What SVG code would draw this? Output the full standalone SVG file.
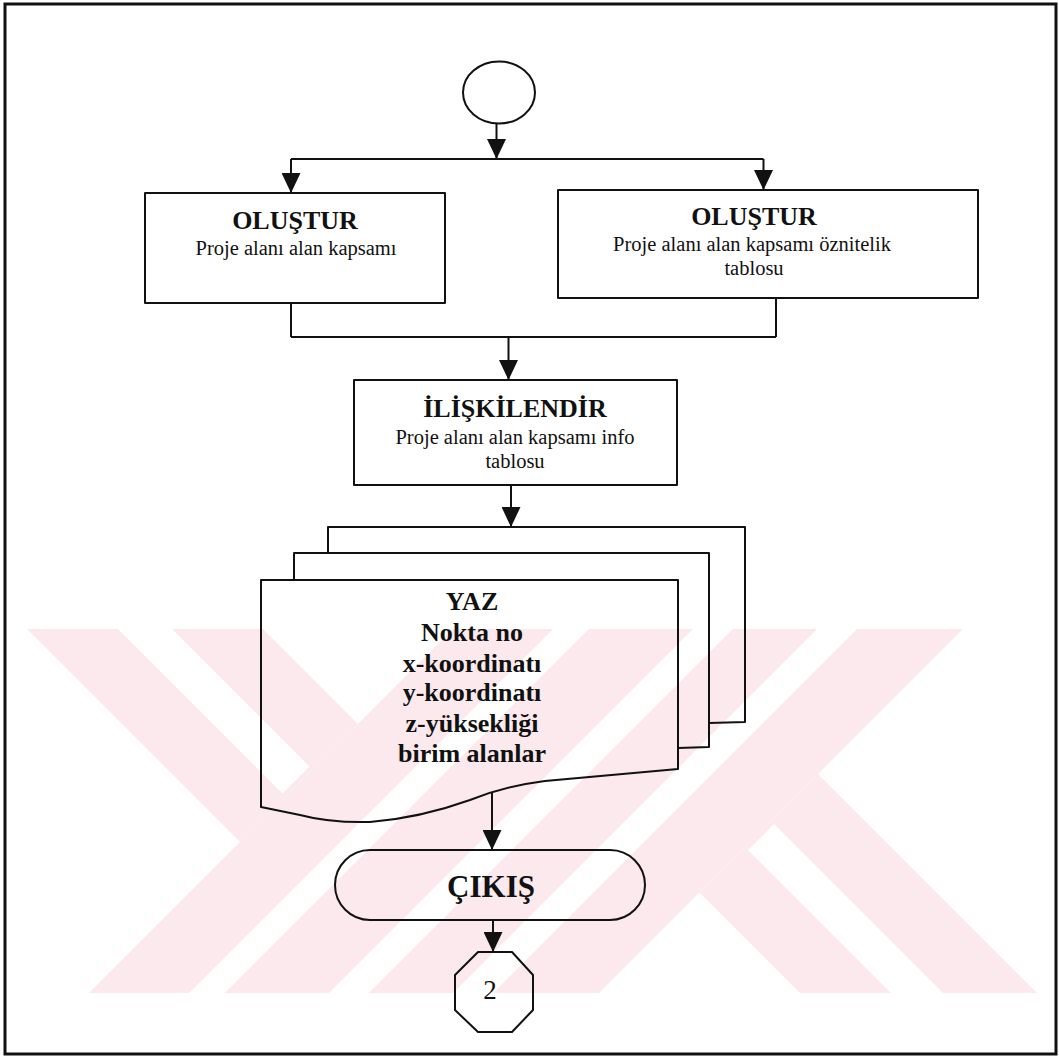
<svg xmlns="http://www.w3.org/2000/svg" width="1059" height="1059" viewBox="0 0 1059 1059">
<defs>
<style>
.ln{fill:none;stroke:#111;stroke-width:2;stroke-linejoin:round}
.sh{fill:none;stroke:#111;stroke-width:2;stroke-linejoin:round}
.t{font-family:"Liberation Serif","Times New Roman",serif;font-weight:bold;font-size:26px;fill:#111;text-anchor:middle}
.r{font-family:"Liberation Serif","Times New Roman",serif;font-size:20.5px;fill:#111;text-anchor:middle}
.d{font-family:"Liberation Serif","Times New Roman",serif;font-weight:bold;font-size:26px;fill:#111;text-anchor:middle}
.x{font-family:"Liberation Serif","Times New Roman",serif;font-weight:bold;font-size:31px;fill:#111;text-anchor:middle}
.n{font-family:"Liberation Serif","Times New Roman",serif;font-size:27px;fill:#111;text-anchor:middle}
.pk{fill:#fce9ed}
.wh{fill:#ffffff}
</style>
<marker id="arr" markerUnits="userSpaceOnUse" viewBox="0 0 20 19" refX="20" refY="9.5" markerWidth="20" markerHeight="19" orient="auto">
<path d="M0,0 L20,9.5 L0,19 Z" fill="#111"/>
</marker>
</defs>
<rect width="1059" height="1059" fill="#ffffff"/>
<g id="watermark">
<polygon class="pk" points="27,629 263,629 358,724 240,842"/>
<polygon class="pk" points="453,629 693,629 329,993 89,993"/>
<polygon class="pk" points="733,629 963,629 599,993 369,993"/>
<polygon class="pk" points="818,774 1037,993 800,993 699.5,892.5"/>
<polygon class="wh" points="118,629 172,629 309.5,766.5 282.5,793.5"/>
<polygon class="wh" points="553,629 589,629 225,993 189,993"/>
<polygon class="wh" points="817,629 857,629 493,993 453,993"/>
<polygon class="wh" points="774,824 943,993 891,993 748,850"/>
</g>
<rect id="frame" x="5" y="4" width="1051" height="1050" fill="none" stroke="#111" stroke-width="3"/>
<g id="connectors">
<line class="ln" x1="496.5" y1="123" x2="496.5" y2="159" marker-end="url(#arr)"/>
<line class="ln" x1="291" y1="159" x2="763.5" y2="159"/>
<line class="ln" x1="291" y1="159" x2="291" y2="193" marker-end="url(#arr)"/>
<line class="ln" x1="763.5" y1="159" x2="763.5" y2="190" marker-end="url(#arr)"/>
<line class="ln" x1="291" y1="303" x2="291" y2="337"/>
<line class="ln" x1="776" y1="298" x2="776" y2="337"/>
<line class="ln" x1="291" y1="337" x2="776" y2="337"/>
<line class="ln" x1="508.5" y1="337" x2="508.5" y2="380" marker-end="url(#arr)"/>
<line class="ln" x1="511" y1="485" x2="511" y2="527" marker-end="url(#arr)"/>
<line class="ln" x1="492" y1="793" x2="492" y2="850" marker-end="url(#arr)"/>
<line class="ln" x1="493" y1="920" x2="493" y2="952" marker-end="url(#arr)"/>
</g>
<g id="start">
<ellipse class="sh" cx="499" cy="92.5" rx="36" ry="31"/>
</g>
<g id="olustur1">
<rect class="sh" x="145" y="193" width="300" height="110"/>
<text class="t" x="295" y="229">OLUŞTUR</text>
<text class="r" x="296" y="255">Proje alanı alan kapsamı</text>
</g>
<g id="olustur2">
<rect class="sh" x="558" y="190" width="420" height="108"/>
<text class="t" x="754" y="225">OLUŞTUR</text>
<text class="r" x="752" y="251">Proje alanı alan kapsamı öznitelik</text>
<text class="r" x="754" y="275">tablosu</text>
</g>
<g id="iliskilendir">
<rect class="sh" x="354" y="380" width="323" height="105"/>
<text class="t" x="515" y="417">İLİŞKİLENDİR</text>
<text class="r" x="515" y="444">Proje alanı alan kapsamı info</text>
<text class="r" x="515" y="468">tablosu</text>
</g>
<g id="yaz">
<path class="sh" d="M328,553 L328,527 L745,527 L745,722 L709,723"/>
<path class="sh" d="M294,580 L294,553 L709,553 L709,747 L678,748"/>
<path class="sh" d="M261,580 L678,580 L678,769 L545,781 Q505,786 470,800 Q420,818 370,822 Q330,823 300,815 L261,807 Z"/>
<text class="d" x="472" y="610">YAZ</text>
<text class="d" x="472" y="641">Nokta no</text>
<text class="d" x="472" y="672">x-koordinatı</text>
<text class="d" x="472" y="701">y-koordinatı</text>
<text class="d" x="472" y="732">z-yüksekliği</text>
<text class="d" x="472" y="762">birim alanlar</text>
</g>
<g id="cikis">
<rect class="sh" x="335" y="850" width="310" height="70" rx="35" ry="35"/>
<text class="x" x="491" y="897">ÇIKIŞ</text>
</g>
<g id="connector2">
<polygon class="sh" points="478,952 512,952 533,975 533,1010 512,1032 478,1032 455,1010 455,975"/>
<text class="n" x="490" y="999">2</text>
</g>
</svg>
